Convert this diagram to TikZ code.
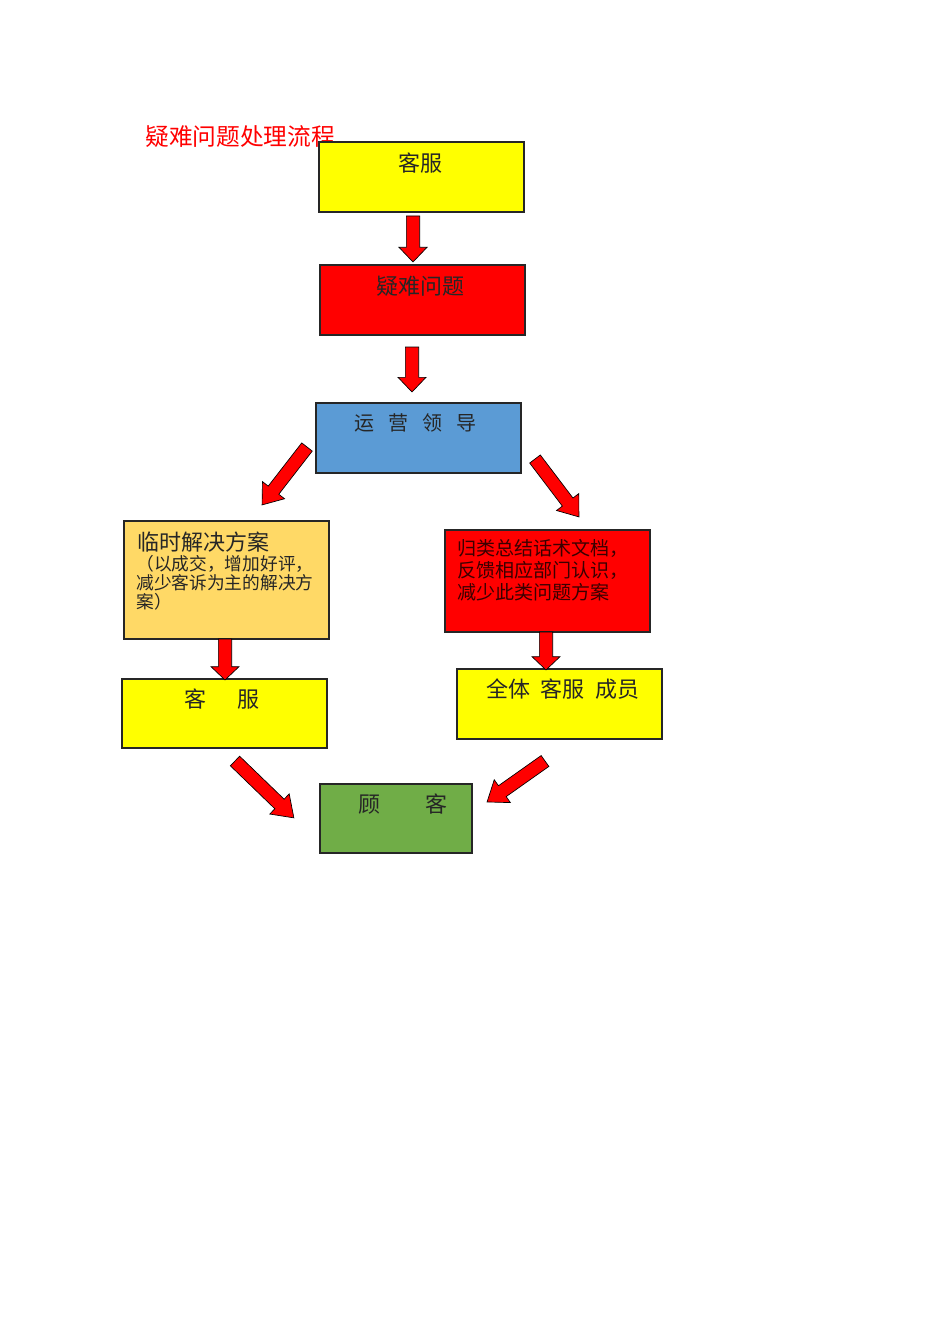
\documentclass[tikz,border=0pt]{standalone}
\usepackage{fontspec}
\newfontfamily\cjk{Noto Sans CJK SC}
\usetikzlibrary{calc}
\definecolor{cyel}{HTML}{FFFF00}
\definecolor{cred}{HTML}{FF0000}
\definecolor{cblue}{HTML}{5B9BD5}
\definecolor{corange}{HTML}{FFD966}
\definecolor{cgreen}{HTML}{70AD47}
\definecolor{ctext}{HTML}{3A0000}
\tikzset{
  box/.style={draw=black!85, line width=0.8pt, rectangle, inner sep=0pt},
  txt/.style={font=\cjk\fontsize{16.5pt}{19pt}\selectfont, inner sep=0pt, text=black!85},
  small/.style={font=\cjk\fontsize{13.3pt}{14.25pt}\selectfont, inner sep=0pt, align=left, text=black!85},
  blockarrow/.style={draw=black, fill=cred, line width=0.5pt, line join=miter},
}
% block arrow: tail, tip, head length (pt)
\newcommand{\barrow}[3]{%
  \path[blockarrow] let \p1=(#1), \p2=(#2), \n1={atan2(\y2-\y1,\x2-\x1)},
    \n2={veclen(\x2-\x1,\y2-\y1)}, \n3={\n2-#3pt} in
    [shift={(\p1)}, rotate=\n1]
    (0pt,-5pt) -- (\n3,-5pt) -- (\n3,-10.5pt) -- (\n2,0pt)
    -- (\n3,10.5pt) -- (\n3,5pt) -- (0pt,5pt) -- cycle;}
\begin{document}
\begin{tikzpicture}[x=0.75pt,y=-0.75pt]
\useasboundingbox (0,0) rectangle (950,1344);
\fill[white] (0,0) rectangle (950,1344);

% title (drawn first: the top box covers its last character)
\node[txt, text=cred, anchor=west, font=\cjk\fontsize{17.8pt}{20pt}\selectfont] (title) at (145,137) {疑难问题处理流程};

% boxes
\node[box, fill=cyel, minimum width=153.75pt, minimum height=52.5pt] (kf1) at (421.5,177) {};
\node[box, fill=cred, minimum width=153.75pt, minimum height=52.5pt] (yn) at (422.5,300) {};
\node[box, fill=cblue, minimum width=153.75pt, minimum height=52.5pt] (yy) at (418.5,438) {};
\node[box, fill=corange, minimum width=153.75pt, minimum height=88.5pt] (ls) at (226.5,580) {};
\node[box, fill=cred, minimum width=153.75pt, minimum height=76.5pt] (gl) at (547.5,581) {};
\node[box, fill=cyel, minimum width=153.75pt, minimum height=51.75pt] (kf2) at (224.5,713.5) {};
\node[box, fill=cyel, minimum width=153.75pt, minimum height=52.5pt] (qt) at (559.5,704) {};
\node[box, fill=cgreen, minimum width=114pt, minimum height=51.75pt] (gk) at (396,818.5) {};

% texts
\node[txt] (tkf1) at (420,163) {客服};
\node[txt] (tyn) at (420,286) {疑难问题};
\node[txt, font=\cjk\fontsize{15pt}{18pt}\selectfont] (tyy) at (415,423) {运\hspace{10.5pt}营\hspace{10.5pt}领\hspace{10.5pt}导};
\node[txt, anchor=west] (tls) at (137,542) {临时解决方案};
\node[small, anchor=north west] (tls2) at (136,555) {（以成交，增加好评，\\减少客诉为主的解决方\\案）};
\node[txt, anchor=north west, align=left, text=ctext,
      font=\cjk\fontsize{14.3pt}{16.5pt}\selectfont] (tgl) at (457,539) {归类总结话术文档，\\反馈相应部门认识，\\减少此类问题方案};
\node[txt] (tkf2) at (222,699) {客\hspace{24pt}服};
\node[txt, anchor=west] (tqt) at (486,689) {全体\hspace{8pt}客服\hspace{8pt}成员};
\node[txt] (tgk) at (403,804) {顾\hspace{34pt}客};

% arrow end points
\coordinate (a1s) at (413,216); \coordinate (a1e) at (413,262);
\coordinate (a2s) at (412,347); \coordinate (a2e) at (412,392);
\coordinate (a3s) at (307,447); \coordinate (a3e) at (262,505);
\coordinate (a4s) at (535,459); \coordinate (a4e) at (579,517);
\coordinate (a5s) at (225,639); \coordinate (a5e) at (225,680);
\coordinate (a6s) at (546,632); \coordinate (a6e) at (546,670);
\coordinate (a7s) at (235,761); \coordinate (a7e) at (294,818);
\coordinate (a8s) at (545,761); \coordinate (a8e) at (487,802);

\barrow{a1s}{a1e}{11}
\barrow{a2s}{a2e}{11}
\barrow{a3s}{a3e}{14}
\barrow{a4s}{a4e}{14}
\barrow{a5s}{a5e}{10}
\barrow{a6s}{a6e}{10}
\barrow{a7s}{a7e}{15}
\barrow{a8s}{a8e}{14}
\end{tikzpicture}
\end{document}
